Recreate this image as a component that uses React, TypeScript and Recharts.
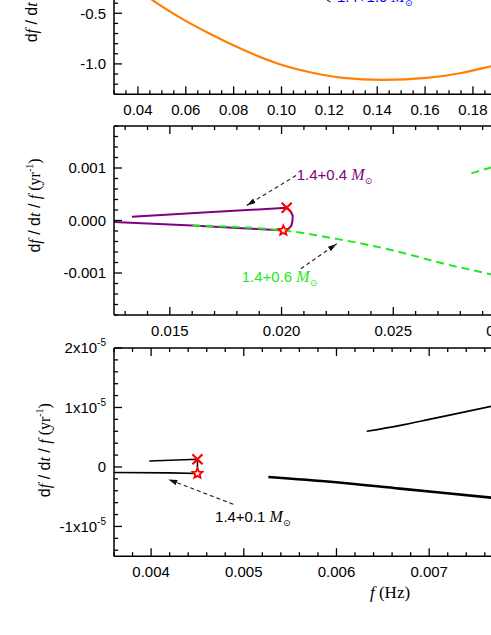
import React from 'react';
import { ComposedChart, Line, Scatter, XAxis, YAxis, ReferenceLine, ReferenceDot } from 'recharts';

const SANS = '"Liberation Sans", Arial, sans-serif';
const SERIF = '"Liberation Serif", "Times New Roman", serif';

// top panel: 1.4+1.0 Msun, df/dt against f
const fTop = [0.04, 0.0464, 0.0562, 0.0701, 0.084, 0.098, 0.1119, 0.1258, 0.1425, 0.1607, 0.1746, 0.1875, 0.2];
const dfdtTop = [-0.26, -0.375, -0.523, -0.703, -0.861, -0.993, -1.082, -1.138, -1.157, -1.138, -1.092, -1.023, -0.95];

// middle panel: 1.4+0.4 (purple, goes round the turning point) and 1.4+0.6 (green dashed)
const fMid04 = [0.0133, 0.0167, 0.02023, 0.0204, 0.0205, 0.02049, 0.02044, 0.0203, 0.02008, 0.016, 0.0125];
const rateMid04 = [0.00007, 0.000155, 0.000242, 0.00018, 0.00009, 0.0, -0.0001, -0.00016, -0.00019, -0.000095, -0.00003];
const fMid06 = [0.01602, 0.02008, 0.02247, 0.025, 0.02724, 0.0293, 0.031];
const rateMid06 = [-0.000095, -0.00019, -0.00035, -0.00057, -0.00082, -0.00102, -0.0012];
const fMid06Up = [0.0285, 0.0293, 0.031];
const rateMid06Up = [0.0009, 0.001, 0.00118];

// bottom panel: 1.4+0.1 and the two black branches
const fBot01 = [0.00398, 0.0045, 0.0045, 0.0042, 0.0036];
const rateBot01 = [1.0e-6, 1.3e-6, -1.1e-6, -1.0e-6, -0.94e-6];
const fBotLow = [0.005265, 0.005966, 0.006685, 0.00767, 0.0085];
const rateBotLow = [-1.68e-6, -2.53e-6, -3.64e-6, -5.15e-6, -6.5e-6];
const fBotUp = [0.006326, 0.00669, 0.007, 0.00767, 0.0085];
const rateBotUp = [6.0e-6, 7.0e-6, 8.0e-6, 10.2e-6, 12.8e-6];

// turning points
const crossMid = [{ x: 0.02023, y: 0.000242 }];
const starMid = [{ x: 0.02008, y: -0.00019 }];
const crossBot = [{ x: 0.0045, y: 1.3e-6 }];
const starBot = [{ x: 0.0045, y: -1.1e-6 }];

// annotations (arrow tail -> tip, text anchor)
const arrowTop = [{ x: 0.1205, y: -0.39 }, { x: 0.105, y: -0.165 }];
const textTop = { x: 0.1232, y: -0.385 };
const arrowMid04 = [{ x: 0.02065, y: 0.000857 }, { x: 0.01844, y: 0.000286 }];
const textMid04 = { x: 0.02068, y: 0.000775 };
const arrowMid06 = [{ x: 0.02086, y: -0.00092 }, { x: 0.02247, y: -0.000444 }];
const textMid06 = { x: 0.01822, y: -0.00118 };
const arrowBot01 = [{ x: 0.004887, y: -6.28e-6 }, { x: 0.004186, y: -2.09e-6 }];
const textBot01 = { x: 0.00469, y: -9.26e-6 };

// axes
const xDomTop = [0.03, 0.2];
const yDomTop = [-1.3, 0.5];
const xMajorTop = [0.04, 0.06, 0.08, 0.1, 0.12, 0.14, 0.16, 0.18, 0.2];
const yMajorTop = [-1.0, -0.5, 0.0, 0.5];
const xDomMid = [0.0125, 0.035];
const yDomMid = [-0.0018, 0.0018];
const xMajorMid = [0.015, 0.02, 0.025, 0.03, 0.035];
const yMajorMid = [-0.001, 0.0, 0.001];
const xDomBot = [0.0036, 0.009];
const yDomBot = [-1.5e-5, 2e-5];
const xMajorBot = [0.004, 0.005, 0.006, 0.007, 0.008, 0.009];
const yMajorBot = [-1e-5, 0, 1e-5, 2e-5];

const pts = (xs: number[], ys: number[]) => xs.map((x, i) => ({ x, y: ys[i] }));

const range = (lo: number, hi: number, step: number) => {
  const n = Math.round((hi - lo) / step);
  return Array.from({ length: n + 1 }, (_, i) => +(lo + i * step).toPrecision(12));
};
const near = (list: number[], v: number, step: number) => list.some((m) => Math.abs(m - v) < step * 0.01);

const TW = 1.3;
const AXIS = { stroke: '#000', strokeWidth: 1.5 };

const bottomTick = (majors: number[], step: number, fmt: (v: number) => any) => (p: any) => {
  const v = p.payload.value;
  const big = near(majors, v, step);
  return (
    <g>
      <line x1={p.x} x2={p.x} y1={p.y} y2={p.y - (big ? 8 : 4)} stroke="#000" strokeWidth={TW} />
      {big && (
        <text x={p.x} y={p.y + 21} textAnchor="middle" fontFamily={SANS} fontSize={15} fill="#000">
          {fmt(v)}
        </text>
      )}
    </g>
  );
};

const topTick = (majors: number[], step: number) => (p: any) => {
  const big = near(majors, p.payload.value, step);
  return <line x1={p.x} x2={p.x} y1={p.y} y2={p.y + (big ? 8 : 4)} stroke="#000" strokeWidth={TW} />;
};

const leftTick = (majors: number[], step: number, fmt: (v: number) => any) => (p: any) => {
  const v = p.payload.value;
  const big = near(majors, v, step);
  return (
    <g>
      <line x1={p.x} x2={p.x + (big ? 8 : 4)} y1={p.y} y2={p.y} stroke="#000" strokeWidth={TW} />
      {big && (
        <text x={p.x - 8} y={p.y} dy="0.35em" textAnchor="end" fontFamily={SANS} fontSize={15} fill="#000">
          {fmt(v)}
        </text>
      )}
    </g>
  );
};

const sciFmt = (v: number) => {
  if (Math.abs(v) < 1e-12) return '0';
  return (
    <>
      {`${Math.round(v / 1e-5)}x10`}
      <tspan fontSize={10} dy={-7}>-5</tspan>
    </>
  );
};

const rateTitle = (bx: number, shift: number) => (p: any) => {
  const vb = p.viewBox;
  const cy = vb.y + vb.height / 2 + shift;
  return (
    <text transform={`translate(${bx},${cy}) rotate(-90)`} textAnchor="middle" fontSize={16} fill="#000" style={{ whiteSpace: 'pre' }}>
      <tspan fontFamily={SANS}>d</tspan>
      <tspan fontFamily={SERIF} fontStyle="italic">f</tspan>
      <tspan fontFamily={SANS}> / d</tspan>
      <tspan fontFamily={SERIF} fontStyle="italic">t</tspan>
      <tspan fontFamily={SANS}> / </tspan>
      <tspan fontFamily={SERIF} fontStyle="italic">f</tspan>
      <tspan fontFamily={SERIF}> (yr</tspan>
      <tspan fontFamily={SERIF} fontSize={10} dy={-7}>-1</tspan>
      <tspan fontFamily={SERIF} dy={7}>)</tspan>
    </text>
  );
};

const dfdtTitle = (p: any) => {
  const vb = p.viewBox;
  const y0 = vb.y + vb.height - 52;
  return (
    <text transform={`translate(37,${y0}) rotate(-90)`} textAnchor="start" fontSize={16} fill="#000" style={{ whiteSpace: 'pre' }}>
      <tspan fontFamily={SANS}>d</tspan>
      <tspan fontFamily={SERIF} fontStyle="italic">f</tspan>
      <tspan fontFamily={SANS}> / d</tspan>
      <tspan fontFamily={SERIF} fontStyle="italic">t</tspan>
      <tspan fontFamily={SERIF}> (Hz yr</tspan>
      <tspan fontFamily={SERIF} fontSize={10} dy={-7}>-1</tspan>
      <tspan fontFamily={SERIF} dy={7}>)</tspan>
    </text>
  );
};

const freqTitle = (p: any) => {
  const vb = p.viewBox;
  return (
    <text x={vb.x + 256} y={vb.y + 42} fontSize={17} fill="#000" fontFamily={SERIF} style={{ whiteSpace: 'pre' }}>
      <tspan fontStyle="italic">f</tspan>
      <tspan> (Hz)</tspan>
    </text>
  );
};

const massLabel = (txt: string, color: string) => (p: any) => (
  <text x={p.cx} y={p.cy} fill={color} fontSize={15} fontFamily={SANS} style={{ whiteSpace: 'pre' }}>
    {txt + ' '}
    <tspan fontFamily={SERIF} fontStyle="italic" fontSize={16}>M</tspan>
    <tspan fontFamily='"DejaVu Sans", sans-serif' fontSize={9} dy={4}>⊙</tspan>
  </text>
);

const arrow = (head: boolean) => (p: any) => (
  <line
    x1={p.x1}
    y1={p.y1}
    x2={p.x2}
    y2={p.y2}
    stroke="#222"
    strokeWidth={1.1}
    strokeDasharray="4 3"
    markerEnd={head ? 'url(#ahead)' : undefined}
  />
);

const Cross = (p: any) => (
  <path
    d={`M${p.cx - 5},${p.cy - 5}L${p.cx + 5},${p.cy + 5}M${p.cx - 5},${p.cy + 5}L${p.cx + 5},${p.cy - 5}`}
    stroke="#ff0000"
    strokeWidth={2.2}
    fill="none"
  />
);

const Star = (p: any) => {
  const d = Array.from({ length: 10 }, (_, i) => {
    const r = i % 2 === 0 ? 5.2 : 2.4;
    const a = -Math.PI / 2 + (i * Math.PI) / 5;
    return `${i === 0 ? 'M' : 'L'}${p.cx + r * Math.cos(a)},${p.cy + r * Math.sin(a)}`;
  }).join('') + 'Z';
  return <path d={d} stroke="#ff0000" strokeWidth={1.8} fill="#fff" />;
};

// plot rectangles on the page (left edge of every plot at x = 114)
const YW = 114;
const TOPH = 10;
const BOTH = 50;
const A = { top: -88.3, w: 406.8, h: 182.3 };
const B = { top: 126, w: 502.7, h: 189 };
const C = { top: 347.5, w: 500.6, h: 208.2 };

const ORANGE = '#ff7f00';
const PURPLE = '#800080';
const GREEN = '#22e822';

const chartBox = (r: { top: number; w: number; h: number }) => ({
  style: { position: 'absolute' as const, left: 0, top: r.top - TOPH },
  width: YW + r.w,
  height: TOPH + r.h + BOTH,
});

export default function App() {
  const a = chartBox(A);
  const b = chartBox(B);
  const c = chartBox(C);
  return (
    <div style={{ position: 'fixed', left: 0, top: 0, width: 491, height: 635, overflow: 'hidden', background: '#fff' }}>
      <svg width={0} height={0} style={{ position: 'absolute' }}>
        <defs>
          <marker id="ahead" viewBox="0 0 10 6" refX="10" refY="3" markerWidth="9" markerHeight="5.4" orient="auto" markerUnits="userSpaceOnUse">
            <path d="M0,0L10,3L0,6Z" fill="#111" />
          </marker>
        </defs>
      </svg>

      <div style={a.style}>
        <ComposedChart width={a.width} height={a.height} margin={{ top: 0, right: 0, bottom: 0, left: 0 }}>
          <XAxis xAxisId="top" orientation="top" type="number" dataKey="x" domain={xDomTop} allowDataOverflow
            ticks={range(0.03, 0.2, 0.005)} interval={0} tickSize={0} tickMargin={0} tickLine={false}
            axisLine={AXIS} height={TOPH} tick={topTick(xMajorTop, 0.005)} />
          <XAxis type="number" dataKey="x" domain={xDomTop} allowDataOverflow
            ticks={range(0.03, 0.2, 0.005)} interval={0} tickSize={0} tickMargin={0} tickLine={false}
            axisLine={AXIS} height={BOTH} tick={bottomTick(xMajorTop, 0.005, (v) => v.toFixed(2))} />
          <YAxis type="number" dataKey="y" domain={yDomTop} allowDataOverflow width={YW}
            ticks={range(-1.3, 0.5, 0.1)} interval={0} tickSize={0} tickMargin={0} tickLine={false}
            axisLine={AXIS} tick={leftTick(yMajorTop, 0.1, (v) => v.toFixed(1))} label={{ content: dfdtTitle }} />
          <Line data={pts(fTop, dfdtTop)} dataKey="y" type="monotone" stroke={ORANGE} strokeWidth={2.2} dot={false} isAnimationActive={false} />
          <ReferenceLine segment={arrowTop} ifOverflow="visible" shape={arrow(false)} />
          <ReferenceDot x={textTop.x} y={textTop.y} r={0} ifOverflow="visible" shape={massLabel('1.4+1.0', '#0000ff')} />
        </ComposedChart>
      </div>

      <div style={b.style}>
        <ComposedChart width={b.width} height={b.height} margin={{ top: 0, right: 0, bottom: 0, left: 0 }}>
          <XAxis xAxisId="top" orientation="top" type="number" dataKey="x" domain={xDomMid} allowDataOverflow
            ticks={range(0.013, 0.035, 0.001)} interval={0} tickSize={0} tickMargin={0} tickLine={false}
            axisLine={AXIS} height={TOPH} tick={topTick(xMajorMid, 0.001)} />
          <XAxis type="number" dataKey="x" domain={xDomMid} allowDataOverflow
            ticks={range(0.013, 0.035, 0.001)} interval={0} tickSize={0} tickMargin={0} tickLine={false}
            axisLine={AXIS} height={BOTH} tick={bottomTick(xMajorMid, 0.001, (v) => v.toFixed(3))} />
          <YAxis type="number" dataKey="y" domain={yDomMid} allowDataOverflow width={YW}
            ticks={range(-0.0018, 0.0018, 0.0002)} interval={0} tickSize={0} tickMargin={0} tickLine={false}
            axisLine={AXIS} tick={leftTick(yMajorMid, 0.0002, (v) => v.toFixed(3))} label={{ content: rateTitle(40, -15) }} />
          <Line data={pts(fMid04, rateMid04)} dataKey="y" type="linear" stroke={PURPLE} strokeWidth={2} dot={false} isAnimationActive={false} />
          <Line data={pts(fMid06, rateMid06)} dataKey="y" type="monotone" stroke={GREEN} strokeWidth={2} strokeDasharray="8 5" dot={false} isAnimationActive={false} />
          <Line data={pts(fMid06Up, rateMid06Up)} dataKey="y" type="monotone" stroke={GREEN} strokeWidth={2} strokeDasharray="8 5" dot={false} isAnimationActive={false} />
          <Scatter data={crossMid} dataKey="y" shape={Cross} isAnimationActive={false} />
          <Scatter data={starMid} dataKey="y" shape={Star} isAnimationActive={false} />
          <ReferenceLine segment={arrowMid04} ifOverflow="visible" shape={arrow(true)} />
          <ReferenceLine segment={arrowMid06} ifOverflow="visible" shape={arrow(true)} />
          <ReferenceDot x={textMid04.x} y={textMid04.y} r={0} ifOverflow="visible" shape={massLabel('1.4+0.4', PURPLE)} />
          <ReferenceDot x={textMid06.x} y={textMid06.y} r={0} ifOverflow="visible" shape={massLabel('1.4+0.6', GREEN)} />
        </ComposedChart>
      </div>

      <div style={c.style}>
        <ComposedChart width={c.width} height={c.height} margin={{ top: 0, right: 0, bottom: 0, left: 0 }}>
          <XAxis xAxisId="top" orientation="top" type="number" dataKey="x" domain={xDomBot} allowDataOverflow
            ticks={range(0.0036, 0.009, 0.0002)} interval={0} tickSize={0} tickMargin={0} tickLine={false}
            axisLine={AXIS} height={TOPH} tick={topTick(xMajorBot, 0.0002)} />
          <XAxis type="number" dataKey="x" domain={xDomBot} allowDataOverflow
            ticks={range(0.0036, 0.009, 0.0002)} interval={0} tickSize={0} tickMargin={0} tickLine={false}
            axisLine={AXIS} height={BOTH} tick={bottomTick(xMajorBot, 0.0002, (v) => v.toFixed(3))}
            label={{ content: freqTitle }} />
          <YAxis type="number" dataKey="y" domain={yDomBot} allowDataOverflow width={YW}
            ticks={range(-1.4e-5, 2e-5, 0.2e-5)} interval={0} tickSize={0} tickMargin={0} tickLine={false}
            axisLine={AXIS} tick={leftTick(yMajorBot, 0.2e-5, sciFmt)} label={{ content: rateTitle(50, -2) }} />
          <Line data={pts(fBot01, rateBot01)} dataKey="y" type="linear" stroke="#000" strokeWidth={1.6} dot={false} isAnimationActive={false} />
          <Line data={pts(fBotLow, rateBotLow)} dataKey="y" type="monotone" stroke="#000" strokeWidth={2.6} dot={false} isAnimationActive={false} />
          <Line data={pts(fBotUp, rateBotUp)} dataKey="y" type="monotone" stroke="#000" strokeWidth={1.7} dot={false} isAnimationActive={false} />
          <Scatter data={crossBot} dataKey="y" shape={Cross} isAnimationActive={false} />
          <Scatter data={starBot} dataKey="y" shape={Star} isAnimationActive={false} />
          <ReferenceLine segment={arrowBot01} ifOverflow="visible" shape={arrow(true)} />
          <ReferenceDot x={textBot01.x} y={textBot01.y} r={0} ifOverflow="visible" shape={massLabel('1.4+0.1', '#000')} />
        </ComposedChart>
      </div>
    </div>
  );
}
